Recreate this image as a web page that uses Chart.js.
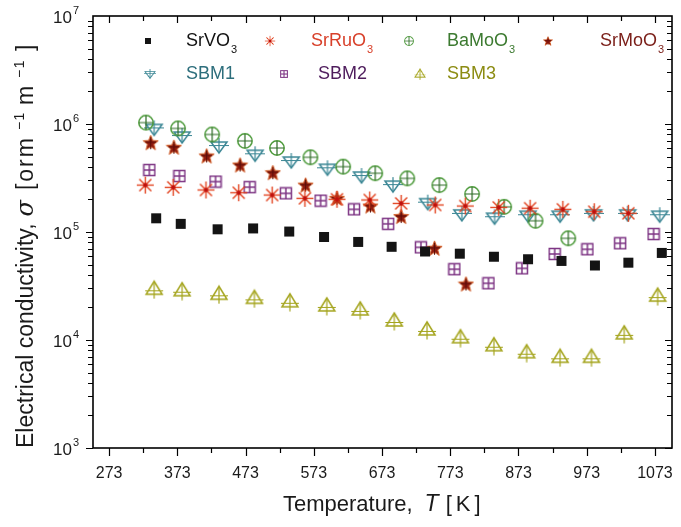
<!DOCTYPE html>
<html>
  <head>
    <style>
      body {
        margin: 0;
        background: #fff;
      }
      .container {
        width: 681px;
        height: 527px;
      }
    </style>
  </head>
  <body>
    <div class="container">
      <canvas id="chart" width="681" height="527"></canvas>
    </div>

    <script src="https://cdn.jsdelivr.net/npm/chart.js"></script>
    <script>
      // axis ticks
      const xTicks = [273, 373, 473, 573, 673, 773, 873, 973, 1073];
      const yDecades = [3, 4, 5, 6, 7];

      // series: temperature [K] and conductivity
      const srvo3T = [342, 378, 432, 484, 537, 588, 638, 687, 736, 787, 837, 887, 936, 985, 1034, 1083];
      const srvo3S = [1.34e5, 1.19e5, 1.06e5, 1.08e5, 1.01e5, 9.0e4, 8.1e4, 7.3e4, 6.6e4, 6.3e4, 5.9e4, 5.6e4, 5.4e4, 4.9e4, 5.2e4, 6.4e4];

      const sruo3T = [326, 367, 415, 463, 512, 560, 607, 655, 701, 751, 795, 844, 890, 938, 984, 1034];
      const sruo3S = [2.72e5, 2.59e5, 2.45e5, 2.31e5, 2.2e5, 2.05e5, 2.01e5, 1.98e5, 1.84e5, 1.78e5, 1.74e5, 1.69e5, 1.66e5, 1.62e5, 1.54e5, 1.49e5];

      const bamoo3T = [327, 374, 424, 472, 519, 568, 616, 663, 710, 757, 805, 852, 898, 946];
      const bamoo3S = [1.03e6, 9.1e5, 8.0e5, 6.97e5, 6.0e5, 4.92e5, 4.03e5, 3.5e5, 3.14e5, 2.72e5, 2.25e5, 1.71e5, 1.27e5, 8.75e4];

      const srmoo3T = [334, 368, 416, 465, 513, 561, 607, 656, 701, 750, 796];
      const srmoo3S = [6.71e5, 6.09e5, 5.06e5, 4.17e5, 3.54e5, 2.72e5, 2.05e5, 1.74e5, 1.39e5, 7.07e4, 3.3e4];

      const sbm1T = [339, 380, 434, 487, 540, 593, 643, 689, 740, 790, 838, 887, 934, 983, 1033, 1080];
      const sbm1S = [9.1e5, 7.74e5, 6.25e5, 5.24e5, 4.54e5, 3.89e5, 3.3e5, 2.72e5, 1.87e5, 1.47e5, 1.37e5, 1.43e5, 1.43e5, 1.47e5, 1.47e5, 1.43e5];

      const sbm2T = [332, 376, 429, 479, 532, 583, 632, 682, 730, 779, 829, 878, 926, 974, 1022, 1071];
      const sbm2S = [3.75e5, 3.3e5, 2.93e5, 2.6e5, 2.28e5, 1.95e5, 1.62e5, 1.19e5, 7.21e4, 4.52e4, 3.35e4, 4.61e4, 6.26e4, 6.92e4, 7.86e4, 9.58e4];

      const sbm3T = [339, 380, 434, 486, 538, 592, 641, 691, 739, 788, 837, 885, 934, 980, 1028, 1077];
      const sbm3S = [2.95e4, 2.86e4, 2.65e4, 2.43e4, 2.26e4, 2.07e4, 1.9e4, 1.5e4, 1.24e4, 1.05e4, 8.85e3, 7.62e3, 6.92e3, 6.92e3, 1.14e4, 2.55e4];

      const FONT = "'Liberation Sans', Arial, sans-serif";

      // marker images
      function marker(w, h, draw) {
        const c = document.createElement('canvas');
        c.width = w;
        c.height = h;
        const ctx = c.getContext('2d');
        draw(ctx);
        return c;
      }

      const mSquare = marker(12, 12, (ctx) => {
        ctx.fillStyle = '#141414';
        ctx.fillRect(1, 1, 10, 10);
      });

      const mAsterisk = marker(19, 19, (ctx) => {
        ctx.strokeStyle = '#e2431f';
        ctx.lineWidth = 1.4;
        for (let i = 0; i < 4; i++) {
          const a = (i * Math.PI) / 4;
          ctx.beginPath();
          ctx.moveTo(9.5 - 8.5 * Math.cos(a), 9.5 - 8.5 * Math.sin(a));
          ctx.lineTo(9.5 + 8.5 * Math.cos(a), 9.5 + 8.5 * Math.sin(a));
          ctx.stroke();
        }
        ctx.fillStyle = '#c0100c';
        ctx.beginPath();
        ctx.arc(9.5, 9.5, 2.2, 0, Math.PI * 2);
        ctx.fill();
      });

      const mCirclePlus = marker(18, 18, (ctx) => {
        ctx.strokeStyle = '#4c9a3a';
        ctx.lineWidth = 1.5;
        ctx.beginPath();
        ctx.arc(9, 9, 7.2, 0, Math.PI * 2);
        ctx.stroke();
        ctx.strokeStyle = '#2c6a24';
        ctx.lineWidth = 1.2;
        ctx.beginPath();
        ctx.moveTo(2, 9);
        ctx.lineTo(16, 9);
        ctx.moveTo(9, 2);
        ctx.lineTo(9, 16);
        ctx.stroke();
      });

      const mStar = marker(17, 17, (ctx) => {
        ctx.beginPath();
        for (let i = 0; i < 10; i++) {
          const r = i % 2 === 0 ? 8 : 3.4;
          const a = -Math.PI / 2 + (i * Math.PI) / 5;
          const px = 8.5 + r * Math.cos(a);
          const py = 9 + r * Math.sin(a);
          if (i === 0) ctx.moveTo(px, py);
          else ctx.lineTo(px, py);
        }
        ctx.closePath();
        ctx.fillStyle = '#8e1a10';
        ctx.fill();
        ctx.strokeStyle = '#d2602a';
        ctx.lineWidth = 1;
        ctx.stroke();
        ctx.strokeStyle = '#5a0e08';
        ctx.beginPath();
        ctx.moveTo(3, 8);
        ctx.lineTo(14, 8);
        ctx.moveTo(8.5, 3);
        ctx.lineTo(8.5, 15);
        ctx.stroke();
      });

      const mTriDown = marker(20, 18, (ctx) => {
        ctx.strokeStyle = '#3a8694';
        ctx.lineWidth = 1.5;
        ctx.beginPath();
        ctx.moveTo(2, 5);
        ctx.lineTo(18, 5);
        ctx.lineTo(10, 16);
        ctx.closePath();
        ctx.stroke();
        ctx.lineWidth = 1.2;
        ctx.beginPath();
        ctx.moveTo(0, 8.5);
        ctx.lineTo(20, 8.5);
        ctx.moveTo(10, 1);
        ctx.lineTo(10, 16);
        ctx.stroke();
      });

      const mSquarePlus = marker(14, 14, (ctx) => {
        ctx.strokeStyle = '#7e3584';
        ctx.lineWidth = 1.5;
        ctx.strokeRect(1.5, 1.5, 11, 11);
        ctx.beginPath();
        ctx.moveTo(1.5, 7);
        ctx.lineTo(12.5, 7);
        ctx.moveTo(7, 1.5);
        ctx.lineTo(7, 12.5);
        ctx.stroke();
      });

      const mTriUp = marker(20, 20, (ctx) => {
        ctx.strokeStyle = '#a4a41c';
        ctx.lineWidth = 1.5;
        ctx.beginPath();
        ctx.moveTo(2, 15);
        ctx.lineTo(18, 15);
        ctx.lineTo(10, 2);
        ctx.closePath();
        ctx.stroke();
        ctx.lineWidth = 1.2;
        ctx.beginPath();
        ctx.moveTo(1, 11.5);
        ctx.lineTo(19, 11.5);
        ctx.moveTo(10, 4);
        ctx.lineTo(10, 19.5);
        ctx.stroke();
      });

      function points(xs, ys) {
        return xs.map((x, i) => ({ x: x, y: ys[i] }));
      }

      const series = [
        { label: 'SrVO', sub: '3', color: '#111111', img: mSquare, data: points(srvo3T, srvo3S) },
        { label: 'SrRuO', sub: '3', color: '#d8402a', img: mAsterisk, data: points(sruo3T, sruo3S) },
        { label: 'BaMoO', sub: '3', color: '#3c7a30', img: mCirclePlus, data: points(bamoo3T, bamoo3S) },
        { label: 'SrMoO', sub: '3', color: '#7a1e18', img: mStar, data: points(srmoo3T, srmoo3S) },
        { label: 'SBM1', sub: '', color: '#2d6e7c', img: mTriDown, data: points(sbm1T, sbm1S) },
        { label: 'SBM2', sub: '', color: '#4e1c5c', img: mSquarePlus, data: points(sbm2T, sbm2S) },
        { label: 'SBM3', sub: '', color: '#8c8c12', img: mTriUp, data: points(sbm3T, sbm3S) },
      ];

      // legend slots: [marker x, text x, row]
      const legendSlots = [
        [148, 186, 0],
        [270, 311, 0],
        [409, 447, 0],
        [548, 600, 0],
        [150, 186, 1],
        [284, 318, 1],
        [420, 447, 1],
      ];
      const legendRows = [41, 74];

      function drawRun(ctx, parts, x, y) {
        // parts: [text, font, dy, gapBefore, letterSpacing]
        parts.forEach((p) => {
          x += p[3] || 0;
          ctx.font = p[1];
          ctx.letterSpacing = (p[4] || 0) + 'px';
          ctx.fillText(p[0], x, y + p[2]);
          x += ctx.measureText(p[0]).width;
        });
        ctx.letterSpacing = '0px';
        return x;
      }

      const frame = {
        id: 'frame',
        afterDraw(chart) {
          const { ctx, chartArea: a, scales } = chart;
          const xs = scales.x;
          const ys = scales.y;
          ctx.save();
          ctx.strokeStyle = '#000';
          ctx.lineWidth = 1.6;
          ctx.strokeRect(a.left, a.top, a.right - a.left, a.bottom - a.top);

          ctx.lineWidth = 1.2;
          ctx.beginPath();
          for (let v = 273; v <= 1073; v += 50) {
            const px = Math.round(xs.getPixelForValue(v)) + 0.5;
            const major = (v - 273) % 100 === 0;
            ctx.moveTo(px, a.bottom);
            ctx.lineTo(px, a.bottom + (major ? 8 : 5));
            ctx.moveTo(px, a.top);
            ctx.lineTo(px, a.top + (major ? 7 : 5));
          }
          for (let d = 3; d < 7; d++) {
            for (let m = 1; m < 10; m++) {
              const py = Math.round(ys.getPixelForValue(m * Math.pow(10, d))) + 0.5;
              const len = m === 1 ? 7 : 5;
              ctx.moveTo(a.left - len, py);
              ctx.lineTo(a.left, py);
              ctx.moveTo(a.right, py);
              ctx.lineTo(a.right - len, py);
            }
          }
          ctx.stroke();

          // tick labels
          ctx.fillStyle = '#1a1a1a';
          ctx.font = '16px ' + FONT;
          ctx.textAlign = 'center';
          ctx.textBaseline = 'middle';
          xTicks.forEach((v) => {
            ctx.fillText(String(v), xs.getPixelForValue(v), a.bottom + 26);
          });
          yDecades.forEach((d) => {
            const py = ys.getPixelForValue(Math.pow(10, d));
            ctx.font = '17px ' + FONT;
            ctx.textAlign = 'right';
            ctx.fillText('10', 72, py + 2);
            ctx.font = '11px ' + FONT;
            ctx.textAlign = 'left';
            ctx.fillText(String(d), 73, py - 5);
          });

          // x title
          ctx.textBaseline = 'alphabetic';
          ctx.textAlign = 'left';
          drawRun(ctx, [
            ['Temperature,', '22px ' + FONT, 0, 0],
            ['T', 'italic 23px ' + FONT, 0, 12],
            ['[K]', '22px ' + FONT, 0, 7, 4],
          ], 283, 511);

          // y title (rotated)
          ctx.translate(33, 236);
          ctx.rotate(-Math.PI / 2);
          drawRun(ctx, [
            ['Electrical conductivity,', '23px ' + FONT, 0, 0],
            ['\u03c3', 'italic 24px ' + "'DejaVu Serif', serif", 0, 7],
            ['[orm', '23px ' + FONT, 0, 10, 2],
            ['\u22121', '14px ' + FONT, -9, 6, 1.5],
            ['m', '23px ' + FONT, 0, 6, 2],
            ['\u22121', '14px ' + FONT, -9, 6, 1.5],
            [']', '23px ' + FONT, 0, 8],
          ], -212, 0);
          ctx.restore();

          // legend
          ctx.save();
          ctx.textBaseline = 'middle';
          ctx.textAlign = 'left';
          series.forEach((s, i) => {
            const [mx, tx, row] = legendSlots[i];
            const ly = legendRows[row];
            const w = s.img.width * 0.62;
            const h = s.img.height * 0.62;
            ctx.drawImage(s.img, mx - w / 2, ly - h / 2, w, h);
            ctx.fillStyle = s.color;
            ctx.font = '18px ' + FONT;
            ctx.fillText(s.label, tx, ly);
            if (s.sub) {
              const lw = ctx.measureText(s.label).width;
              ctx.font = '11px ' + FONT;
              ctx.fillText(s.sub, tx + lw + 1, ly + 9);
            }
          });
          ctx.restore();
        },
      };

      const config = {
        type: 'scatter',
        data: {
          datasets: series.map((s) => ({
            label: s.label + s.sub,
            data: s.data,
            pointStyle: s.img,
            pointRadius: 8,
            showLine: false,
          })),
        },
        options: {
          responsive: false,
          animation: false,
          events: [],
          layout: {
            padding: { left: 93, right: 2, top: 16, bottom: 79 },
          },
          plugins: {
            legend: { display: false },
            tooltip: { enabled: false },
          },
          scales: {
            x: {
              type: 'linear',
              min: 249.4,
              max: 1098,
              grid: { display: false, drawTicks: false },
              border: { display: false },
              ticks: { display: false },
            },
            y: {
              type: 'logarithmic',
              min: 1e3,
              max: 1e7,
              grid: { display: false, drawTicks: false },
              border: { display: false },
              ticks: { display: false },
            },
          },
        },
        plugins: [frame],
      };

      const chart = new Chart(document.getElementById('chart'), config);
    </script>
  </body>
</html>
